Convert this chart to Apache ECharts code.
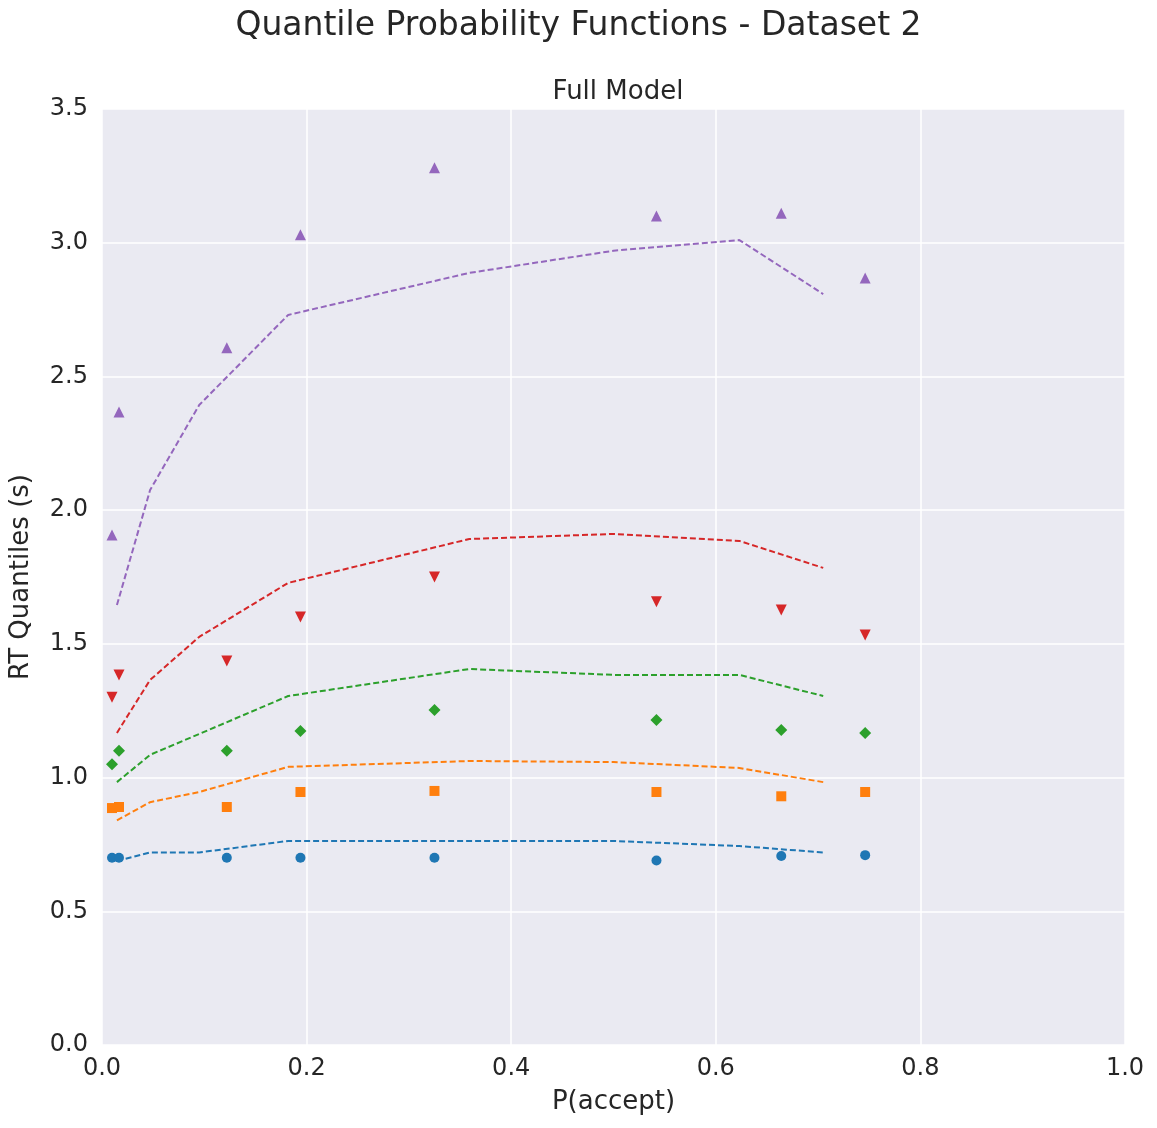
<!DOCTYPE html>
<html><head><meta charset="utf-8">
<script src="https://cdn.jsdelivr.net/npm/echarts@6/dist/echarts.min.js"></script>
<style>html,body{margin:0;padding:0;background:#fff}#c{width:1157px;height:1128px}</style>
</head><body><div id="c"></div>
<script>
const dataX=[0.0098,0.0166,0.122,0.194,0.325,0.542,0.664,0.746];
const dataQ1=[0.70,0.70,0.70,0.70,0.70,0.69,0.707,0.71];
const dataQ2=[0.886,0.89,0.89,0.946,0.95,0.946,0.93,0.946];
const dataQ3=[1.05,1.10,1.10,1.174,1.253,1.215,1.178,1.167];
const dataQ4=[1.30,1.384,1.436,1.60,1.75,1.657,1.627,1.533];
const dataQ5=[1.907,2.367,2.607,3.03,3.28,3.10,3.11,2.868];
const modelX=[0.0146,0.047,0.095,0.182,0.359,0.5,0.623,0.705];
const modelQ1=[0.688,0.72,0.72,0.763,0.763,0.763,0.744,0.72];
const modelQ2=[0.84,0.908,0.946,1.04,1.062,1.058,1.036,0.983];
const modelQ3=[0.983,1.085,1.163,1.305,1.406,1.384,1.384,1.305];
const modelQ4=[1.167,1.365,1.526,1.728,1.892,1.911,1.885,1.784];
const modelQ5=[1.645,2.075,2.393,2.73,2.887,2.97,3.01,2.808];
const colors=['#1f77b4','#ff7f0e','#2ca02c','#d62728','#9467bd'];
const symbols=['circle','rect','diamond','path://M0,0 L10,0 L5,10 Z','triangle'];
const sizes=[10,10,12,11,11];
const data=[dataQ1,dataQ2,dataQ3,dataQ4,dataQ5];
const model=[modelQ1,modelQ2,modelQ3,modelQ4,modelQ5];
const series=[];
for(let i=0;i<5;i++){
  series.push({type:'line',data:modelX.map((x,j)=>[x,model[i][j]]),showSymbol:false,symbol:'none',
    lineStyle:{color:colors[i],type:[6,3],width:2},z:2});
  series.push({type:'scatter',data:dataX.map((x,j)=>[x,data[i][j]]),symbol:symbols[i],symbolSize:sizes[i],
    itemStyle:{color:colors[i],opacity:1},z:3});
}
const font='DejaVu Sans';
const chart=echarts.init(document.getElementById('c'));
chart.setOption({
  animation:false,
  textStyle:{fontFamily:font},
  title:[{text:'Quantile Probability Functions - Dataset 2',left:'center',top:5,textStyle:{fontSize:33,fontWeight:'normal',color:'#262626',fontFamily:font}},
         {text:'Full Model',left:613,textAlign:'center',top:74,textStyle:{fontSize:26,fontWeight:'normal',color:'#262626',fontFamily:font}}],
  grid:{left:101,right:32,top:109,bottom:83,backgroundColor:'#eaeaf2',show:true,borderWidth:0},
  xAxis:{type:'value',min:0,max:1,interval:0.2,name:'P(accept)',nameLocation:'middle',nameGap:44,
    nameTextStyle:{fontSize:26,color:'#262626'},axisLine:{show:false},axisTick:{show:false},
    axisLabel:{fontSize:24,color:'#262626',margin:12,formatter:v=>v.toFixed(1)},
    splitLine:{lineStyle:{color:'#fff',width:1.5}}},
  yAxis:{type:'value',min:0,max:3.5,interval:0.5,name:'RT Quantiles (s)',nameLocation:'middle',nameGap:68,
    nameTextStyle:{fontSize:26,color:'#262626'},axisLine:{show:false},axisTick:{show:false},
    axisLabel:{fontSize:24,color:'#262626',margin:14,formatter:v=>v.toFixed(1)},
    splitLine:{lineStyle:{color:'#fff',width:1.5}}},
  series
});
</script></body></html>
